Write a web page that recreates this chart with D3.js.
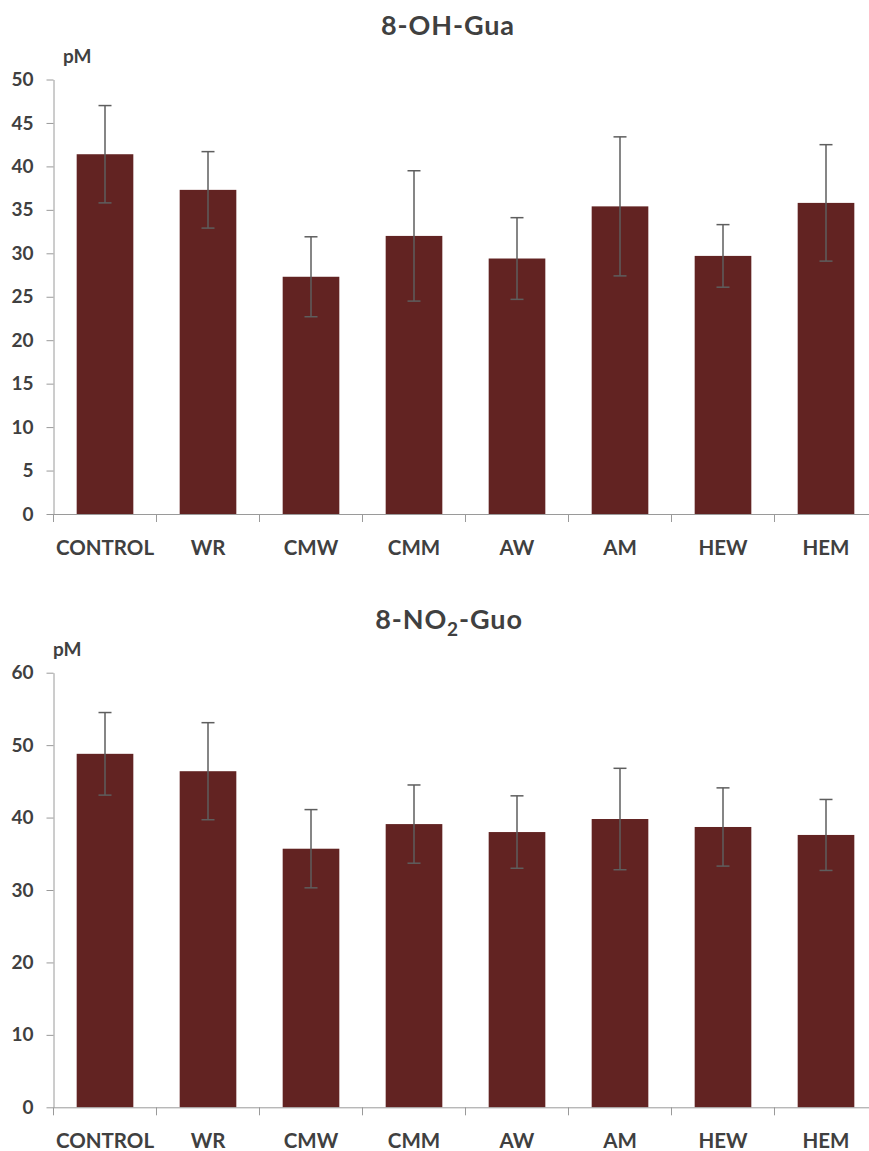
<!DOCTYPE html>
<html>
<head>
<meta charset="utf-8">
<script src="https://cdn.jsdelivr.net/npm/d3@7"></script>
<style>
  html, body { margin: 0; padding: 0; background: #fff; }
  svg { display: block; }
  text { font-family: Lato, "Open Sans", sans-serif; font-weight: 700; fill: #404040; }
</style>
</head>
<body>
<svg id="chart" width="869" height="1151"></svg>
<script>
// Treatment groups shared by both panels
const categories = ["CONTROL", "WR", "CMW", "CMM", "AW", "AM", "HEW", "HEM"];

// 8-OH-Gua concentration (pM): mean and error
const ohGuaMean = [41.4, 37.3, 27.3, 32.0, 29.4, 35.4, 29.7, 35.8];
const ohGuaErr  = [5.6, 4.4, 4.6, 7.5, 4.7, 8.0, 3.6, 6.7];
const ohGuaTicks = [0, 5, 10, 15, 20, 25, 30, 35, 40, 45, 50];

// 8-NO2-Guo concentration (pM): mean and error
const no2GuoMean = [48.8, 46.4, 35.7, 39.1, 38.0, 39.8, 38.7, 37.6];
const no2GuoErr  = [5.7, 6.7, 5.4, 5.4, 5.0, 7.0, 5.4, 4.9];
const no2GuoTicks = [0, 10, 20, 30, 40, 50, 60];

const unitLabel = "pM";

const BAR_COLOR = "#622322";
const AXIS_COLOR = "#9a9a9a";
const ERR_COLOR = "#5e5e5e";

const svg = d3.select("#chart");

function drawPanel(opts) {
  const g = svg.append("g");
  const x = d3.scaleBand().domain(categories).range([53.5, 877.5]).padding(0);
  const y = d3.scaleLinear().domain([0, d3.max(opts.ticks)]).range([opts.y0, opts.y1]);
  const barW = x.bandwidth() * 0.55;

  // title
  const t = g.append("text")
    .attr("x", opts.titleX)
    .attr("y", opts.titleY)
    .attr("text-anchor", "middle")
    .style("font-size", "27px")
    .style("font-weight", "700")
    .style("letter-spacing", "0.9px");
  opts.title.forEach(part => {
    const ts = t.append("tspan").text(part.text);
    if (part.sub) ts.attr("dy", 7).style("font-size", "19px");
    if (part.after) ts.attr("dy", -7);
  });

  // unit label
  g.append("text")
    .attr("x", opts.unitX)
    .attr("y", opts.unitY)
    .style("font-size", "19px")
    .text(unitLabel);

  // bars
  g.selectAll("rect.bar")
    .data(opts.mean)
    .join("rect")
    .attr("class", "bar")
    .attr("x", (d, i) => x(categories[i]) + (x.bandwidth() - barW) / 2)
    .attr("y", d => y(d))
    .attr("width", barW)
    .attr("height", d => y(0) - y(d))
    .attr("fill", BAR_COLOR);

  // error bars
  const capW = 13;
  const eb = g.selectAll("g.err")
    .data(opts.mean.map((m, i) => ({ m, e: opts.err[i], c: categories[i] })))
    .join("g")
    .attr("class", "err")
    .attr("stroke", ERR_COLOR)
    .attr("stroke-width", 1.5);
  eb.append("line")
    .attr("x1", d => x(d.c) + x.bandwidth() / 2)
    .attr("x2", d => x(d.c) + x.bandwidth() / 2)
    .attr("y1", d => y(d.m + d.e))
    .attr("y2", d => y(d.m - d.e));
  eb.append("line")
    .attr("x1", d => x(d.c) + x.bandwidth() / 2 - capW / 2)
    .attr("x2", d => x(d.c) + x.bandwidth() / 2 + capW / 2)
    .attr("y1", d => y(d.m + d.e))
    .attr("y2", d => y(d.m + d.e));
  eb.append("line")
    .attr("x1", d => x(d.c) + x.bandwidth() / 2 - capW / 2)
    .attr("x2", d => x(d.c) + x.bandwidth() / 2 + capW / 2)
    .attr("y1", d => y(d.m - d.e))
    .attr("y2", d => y(d.m - d.e));

  // y axis
  const yAxis = g.append("g")
    .attr("transform", "translate(53.5,0)")
    .call(d3.axisLeft(y).tickValues(opts.ticks).tickSize(7).tickSizeOuter(0).tickPadding(13));
  yAxis.select(".domain").attr("stroke", AXIS_COLOR);
  yAxis.selectAll(".tick line").attr("stroke", AXIS_COLOR);
  yAxis.selectAll(".tick text")
    .style("font-family", "Lato, sans-serif")
    .style("font-size", "19px")
    .style("font-weight", "700")
    .attr("fill", "#404040");

  // x axis baseline with ticks at category boundaries
  const xAxis = g.append("g")
    .attr("transform", `translate(0,${opts.y0})`)
    .call(d3.axisBottom(x).tickSize(0).tickPadding(0).tickFormat(""));
  xAxis.select(".domain").attr("stroke", AXIS_COLOR);
  g.selectAll("line.bound")
    .data(categories)
    .join("line")
    .attr("class", "bound")
    .attr("x1", d => x(d))
    .attr("x2", d => x(d))
    .attr("y1", opts.y0)
    .attr("y2", opts.y0 + 8)
    .attr("stroke", AXIS_COLOR);

  // category labels
  g.selectAll("text.cat")
    .data(categories)
    .join("text")
    .attr("class", "cat")
    .attr("x", d => x(d) + x.bandwidth() / 2)
    .attr("y", opts.y0 + 41)
    .attr("text-anchor", "middle")
    .style("font-size", "20.5px")
    .text(d => d);
}

drawPanel({
  title: [{ text: "8-OH-Gua" }],
  titleX: 448, titleY: 35,
  unitX: 63, unitY: 63,
  y0: 514, y1: 79.5,
  ticks: ohGuaTicks,
  mean: ohGuaMean, err: ohGuaErr
});

drawPanel({
  title: [{ text: "8-NO" }, { text: "2", sub: true }, { text: "-Guo", after: true }],
  titleX: 449, titleY: 629,
  unitX: 53, unitY: 656,
  y0: 1107.3, y1: 672.7,
  ticks: no2GuoTicks,
  mean: no2GuoMean, err: no2GuoErr
});
</script>
</body>
</html>
